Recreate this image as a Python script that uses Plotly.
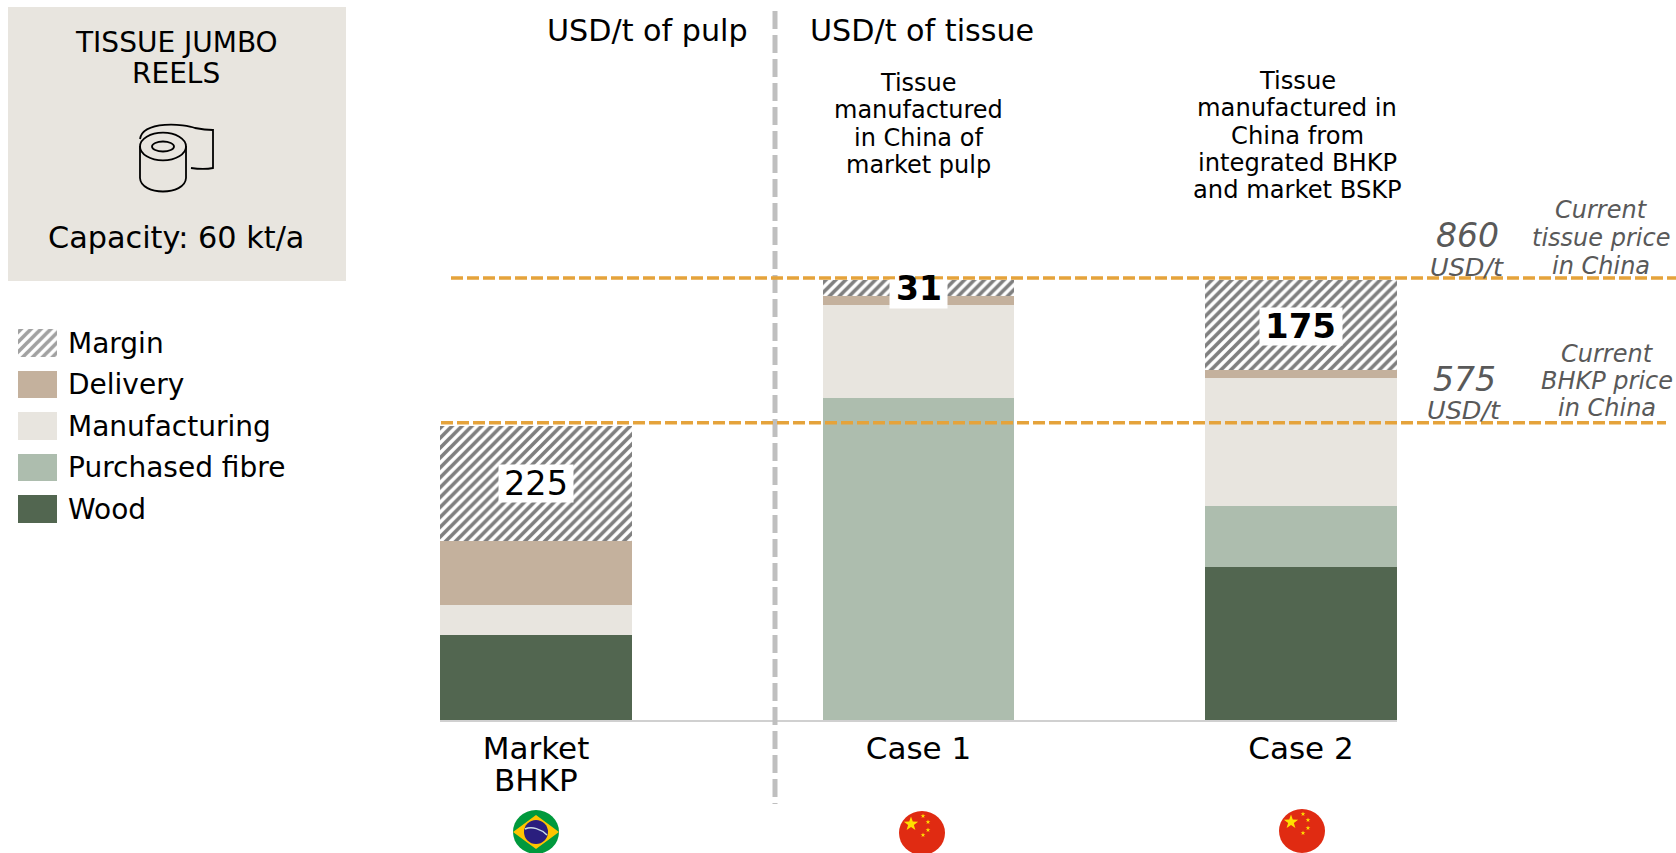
import math
import plotly.graph_objects as go

W, H = 1676, 853
FONT = "DejaVu Sans"

CATEGORIES = ["Market BHKP", "Case 1", "Case 2"]
TICK_LABELS = ["Market", "Case 1", "Case 2"]
WOOD = [166, 0, 299]
PURCHASED = [0, 629, 119]
MANUFACTURING = [59, 182, 250]
DELIVERY = [125, 18, 17]
MARGIN = [225, 31, 175]
TISSUE_PRICE = 860
BHKP_PRICE = 575

SEGMENTS = ["Wood", "Purchased fibre", "Manufacturing", "Delivery", "Margin"]
SEGMENT_VALUES = [WOOD, PURCHASED, MANUFACTURING, DELIVERY, MARGIN]
COLORS = ["#526650", "#ADBDAE", "#E8E5DF", "#C4B19D", "#FFFFFF"]
HATCH = ["", "", "", "", "/"]
LEGEND_ORDER = ["Wood", "Purchased fibre", "Manufacturing", "Delivery", "Margin"]
PATTERN_SIZE = 7
PATTERN_SOLIDITY = 0.52


def px(x):
    return x / W


def py(y):
    return 1 - y / H


def rect(x0, y0, x1, y1, fill, layer="below"):
    return dict(type="rect", xref="paper", yref="paper", x0=px(x0), x1=px(x1), y0=py(y0), y1=py(y1),
                fillcolor=fill, line_width=0, layer=layer)


def path(d_pts, stroke=None, fill=None, width=1.8):
    parts = []
    for cmd, pts in d_pts:
        parts.append(cmd + " ".join(f"{px(a):.5f},{py(b):.5f}" for a, b in pts))
    return dict(type="path", xref="paper", yref="paper", path=" ".join(parts),
                line=dict(color=stroke or "rgba(0,0,0,0)", width=width if stroke else 0),
                fillcolor=fill or "rgba(0,0,0,0)", layer="above")


def ellipse(cx, cy, rx, ry, fill=None, stroke=None, width=1.8):
    return dict(type="circle", xref="paper", yref="paper", x0=px(cx - rx), x1=px(cx + rx),
                y0=py(cy + ry), y1=py(cy - ry), fillcolor=fill or "rgba(0,0,0,0)",
                line=dict(color=stroke or "rgba(0,0,0,0)", width=width if stroke else 0), layer="above")


def star(cx, cy, r, fill="#FFE000", rot=0.0):
    pts = []
    for i in range(10):
        rr = r if i % 2 == 0 else r * 0.4
        a = rot - math.pi / 2 + i * math.pi / 5
        pts.append((cx + rr * math.cos(a), cy + rr * math.sin(a)))
    return path([("M", [pts[0]])] + [("L", [p]) for p in pts[1:]] + [("Z", [])], fill=fill)


def china(cx, cy):
    return [ellipse(cx, cy, 23, 22, fill="#E02B12"),
            star(cx - 11, cy - 9, 7.5),
            star(cx + 1, cy - 17, 2.5), star(cx + 6, cy - 11, 2.5),
            star(cx + 6, cy - 3, 2.5), star(cx + 1, cy + 2, 2.5)]


shapes = [rect(8, 7, 346, 281, "#E8E5DF")]

# tissue roll icon
shapes += [
    ellipse(163, 146.5, 23, 13.8, stroke="#000000"),
    ellipse(163, 146.5, 11, 5, stroke="#000000"),
    path([("M", [(140, 146)]), ("L", [(140, 178)]), ("C", [(141, 196), (185, 196), (186, 178)]), ("L", [(186, 146)])],
         stroke="#000000"),
    path([("M", [(140, 139)]), ("C", [(143, 120), (185, 124), (195, 128)]), ("C", [(200, 129), (207, 130), (213, 130)]),
          ("L", [(213, 168)]), ("C", [(208, 169), (198, 169), (191, 168)])], stroke="#000000"),
]

# separator and price lines
shapes += [
    dict(type="line", xref="paper", yref="paper", x0=px(775), x1=px(775), y0=py(11), y1=py(804),
         line=dict(color="#BFBFBF", width=5, dash="18px,6px"), layer="above"),
    dict(type="line", xref="paper", yref="y", x0=px(451), x1=1, y0=TISSUE_PRICE + 4, y1=TISSUE_PRICE + 4,
         line=dict(color="#E5A33B", width=3.5, dash="12px,4px"), layer="above"),
    dict(type="line", xref="paper", yref="y", x0=px(441), x1=px(1666), y0=BHKP_PRICE + 6, y1=BHKP_PRICE + 6,
         line=dict(color="#E5A33B", width=3.5, dash="12px,4px"), layer="above"),
]

# flags
shapes += [
    ellipse(536, 832, 23, 22, fill="#00993D"),
    path([("M", [(513, 832)]), ("L", [(536, 815)]), ("L", [(559, 832)]), ("L", [(536, 849)]), ("Z", [])], fill="#FFC400"),
    ellipse(536, 832, 12, 12, fill="#2A1E7E"),
    path([("M", [(525, 829)]), ("C", [(532, 826), (541, 829), (547, 835)])], stroke="#C9DCE6", width=1.5),
]
shapes += china(922, 833) + china(1302, 831)


def text(x, y, s, size, color="#000000", italic=False, bold=False, xref="paper", yref="paper"):
    return dict(x=px(x) if xref == "paper" else x, y=py(y) if yref == "paper" else y, xref=xref, yref=yref, text=s,
                showarrow=False, xanchor="center", yanchor="middle",
                font=dict(family=FONT, size=size, color=color, style="italic" if italic else "normal",
                          weight="bold" if bold else "normal"))


annotations = [
    text(176, 43, "TISSUE JUMBO", 28), text(176, 73, "REELS", 28),
    text(176, 238, "Capacity: 60 kt/a", 30.3),
    text(647, 31, "USD/t of pulp", 30.2), text(922, 31, "USD/t of tissue", 30.2),
]
for line, y in zip(["Tissue", "manufactured", "in China of", "market pulp"], [83, 110, 138, 165]):
    annotations.append(text(918, y, line, 24))
for line, y in zip(["Tissue", "manufactured in", "China from", "integrated BHKP", "and market BSKP"],
                   [81, 108, 136, 162.5, 190]):
    annotations.append(text(1297, y, line, 24.2))

GREY = "#595959"
annotations += [
    text(1467, 235, str(TISSUE_PRICE), 33, GREY, italic=True), text(1467, 267, "USD/t", 25.5, GREY, italic=True),
    text(1464, 379, str(BHKP_PRICE), 33, GREY, italic=True), text(1464, 410, "USD/t", 25.5, GREY, italic=True),
]
for line, y in zip(["Current", "tissue price", "in China"], [210, 238, 266]):
    annotations.append(text(1601, y, line, 24, GREY, italic=True))
for line, y in zip(["Current", "BHKP price", "in China"], [354, 381, 408]):
    annotations.append(text(1607, y, line, 24, GREY, italic=True))

# second line of the first axis label
annotations.append(dict(x=CATEGORIES[0], y=py(780), xref="x", yref="paper", text="BHKP", showarrow=False,
                        xanchor="center", yanchor="middle", font=dict(family=FONT, size=31, color="#000000")))

# margin value boxes, centred on the margin segment of each bar
BOX_W = [74, 57, 82]
BOX_H = [37, 28, 37]
BOX_SHIFT = [0, -6, -2]
TEXT_SHIFT = [0, -1, -1]
LABEL_SIZE = [33.5, 33, 34]
for i, cat in enumerate(CATEGORIES):
    total = sum(v[i] for v in SEGMENT_VALUES)
    mid = total - MARGIN[i] / 2
    box = text(cat, mid, " ", 10, xref="x", yref="y")
    box.update(bgcolor="#FFFFFF", borderpad=0, width=BOX_W[i], height=BOX_H[i], yshift=BOX_SHIFT[i])
    annotations.append(box)
    label = text(cat, mid, str(MARGIN[i]), LABEL_SIZE[i], bold=i > 0, xref="x", yref="y")
    label.update(yshift=TEXT_SHIFT[i])
    annotations.append(label)

fig = go.Figure()
for name, vals, color, hatch in zip(SEGMENTS, SEGMENT_VALUES, COLORS, HATCH):
    fig.add_trace(go.Bar(
        x=CATEGORIES, y=vals, name=name, width=0.5, xaxis="x", yaxis="y",
        marker=dict(color=color, line_width=0,
                    pattern=dict(shape=hatch, fgcolor="#000000", bgcolor="#FFFFFF",
                                 size=PATTERN_SIZE, solidity=PATTERN_SOLIDITY)),
        hoverinfo="name+y", showlegend=False))

# legend drawn as a small bar chart so swatches use the same fills
fig.add_trace(go.Bar(
    x=[1] * len(LEGEND_ORDER), y=LEGEND_ORDER, orientation="h", width=0.66, xaxis="x2", yaxis="y2",
    marker=dict(color=COLORS, line_width=0,
                pattern=dict(shape=HATCH, fgcolor="#000000", bgcolor="#FFFFFF",
                             size=PATTERN_SIZE, solidity=PATTERN_SOLIDITY)),
    hoverinfo="y", showlegend=False))

fig.update_layout(
    width=W, height=H, autosize=False, margin=dict(l=0, r=0, t=0, b=0),
    paper_bgcolor="#FFFFFF", plot_bgcolor="#FFFFFF", barmode="stack",
    font=dict(family=FONT, color="#000000"), showlegend=False,
    shapes=shapes, annotations=annotations,
    xaxis=dict(domain=[px(440), px(1397)], range=[-0.251, 2.251], type="category",
               categoryorder="array", categoryarray=CATEGORIES,
               tickmode="array", tickvals=CATEGORIES, ticktext=TICK_LABELS, ticks="",
               tickfont=dict(family=FONT, size=31), showgrid=False, zeroline=False,
               showline=True, linecolor="#D0D0D0", linewidth=2, ticklabelstandoff=0, fixedrange=True),
    yaxis=dict(domain=[py(720), py(269.8)], range=[0, 880], visible=False, fixedrange=True),
    xaxis2=dict(domain=[px(18), px(57)], range=[0, 1], anchor="y2", visible=False, fixedrange=True),
    yaxis2=dict(domain=[py(529.75), py(322.25)], anchor="x2", side="right", type="category",
                categoryorder="array", categoryarray=LEGEND_ORDER, range=[-0.5, 4.5],
                tickfont=dict(family=FONT, size=28), ticks="", showgrid=False, zeroline=False,
                showline=False, ticklabelstandoff=10, fixedrange=True),
)

fig.write_html("out.html", config=dict(displayModeBar=False),
               post_script="document.body.style.margin='0';document.body.style.overflow='hidden';")
